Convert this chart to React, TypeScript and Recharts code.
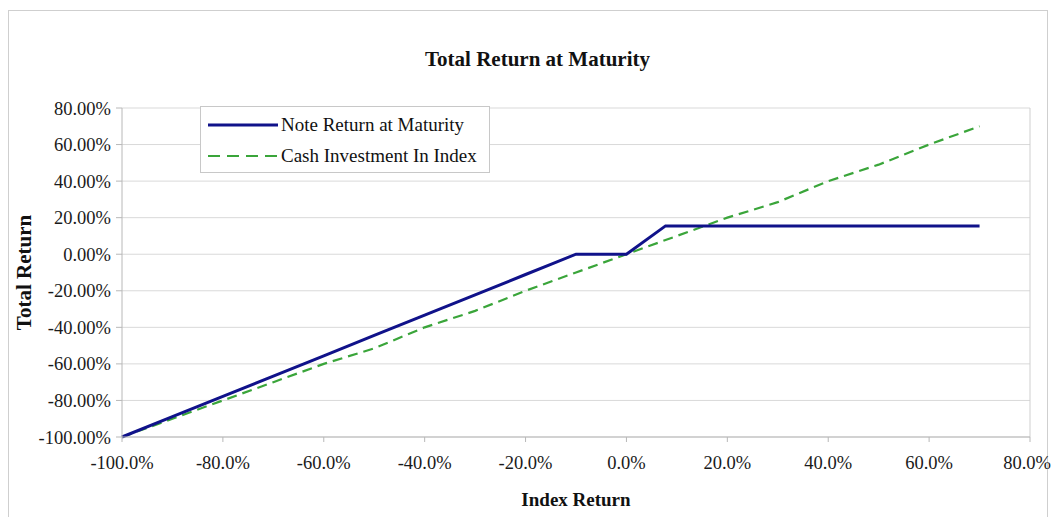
import { LineChart, Line, XAxis, YAxis, CartesianGrid, ReferenceLine } from 'recharts'

const NOTE_X = [-100, -90, -80, -70, -60, -50, -40, -30, -20, -15, -10, 0, 7.75, 10, 20, 30, 40, 50, 60, 70]
const NOTE_Y = [-100, -88.9, -77.8, -66.7, -55.6, -44.4, -33.3, -22.2, -11.1, -5.6, 0, 0, 15.5, 15.5, 15.5, 15.5, 15.5, 15.5, 15.5, 15.5]
const CASH_X = [-100, -90, -80, -70, -60, -50, -40, -30, -20, -10, 0, 10, 20, 30, 40, 50, 60, 70]
const CASH_Y = [-100, -90, -80, -70, -60, -51.5, -40, -31, -20, -10, 0, 10, 20, 28.5, 40, 49, 60, 70]
const X_TICKS = [-100, -80, -60, -40, -20, 0, 20, 40, 60, 80]
const Y_TICKS = [-100, -80, -60, -40, -20, 0, 20, 40, 60, 80]

const NOTE_NAME = 'Note Return at Maturity'
const CASH_NAME = 'Cash Investment In Index'

const FONT = '"Liberation Serif", "Times New Roman", serif'
const NAVY = '#10128a'
const GREEN = '#3aa53a'

const noteData = NOTE_X.map((x, i) => ({ x, y: NOTE_Y[i] }))
const cashData = CASH_X.map((x, i) => ({ x, y: CASH_Y[i] }))

function LegendBox() {
  const items = [
    { name: NOTE_NAME, color: NAVY, dash: undefined, w: 3 },
    { name: CASH_NAME, color: GREEN, dash: '12 7', w: 2.2 },
  ]
  return (
    <div style={{
      position: 'absolute', left: 200, top: 106, width: 290, height: 67, boxSizing: 'border-box',
      border: '1px solid #c8c8c8', background: '#fff', padding: '2px 0 0 6px', fontFamily: FONT,
    }}>
      {items.map((it) => (
        <div key={it.name} style={{ display: 'flex', alignItems: 'center', height: 31 }}>
          <svg width={72} height={10}>
            <line x1={1} y1={5} x2={71} y2={5} stroke={it.color} strokeWidth={it.w} strokeDasharray={it.dash} />
          </svg>
          <span style={{ fontSize: 19, color: '#111', marginLeft: 2, whiteSpace: 'nowrap' }}>{it.name}</span>
        </div>
      ))}
    </div>
  )
}

export default function App() {
  const tick = { fontSize: 18.5, fill: '#1a1a1a', fontFamily: FONT }
  return (
    <div style={{ position: 'absolute', left: 0, top: 0, width: 1051, height: 517, background: '#fff', fontFamily: FONT, overflow: 'hidden' }}>
      <div style={{ position: 'absolute', left: 8, top: 10, width: 1040, height: 520, border: '1px solid #cfcfcf', boxSizing: 'border-box' }} />
      <div style={{ position: 'absolute', left: 0, width: 1075, top: 47, textAlign: 'center', fontWeight: 'bold', fontSize: 21, color: '#111' }}>
        Total Return at Maturity
      </div>
      <div style={{ position: 'absolute', left: 0, top: 0 }}>
        <LineChart width={1051} height={517} margin={{ top: 108, right: 21, bottom: 22, left: 0 }}>
          <CartesianGrid vertical={false} stroke="#d9d9d9" />
          <XAxis
            type="number" dataKey="x" domain={[-100, 80]} ticks={X_TICKS}
            tickFormatter={(v) => `${v.toFixed(1)}%`}
            tick={tick} stroke="#b8b8b8" tickSize={5} tickMargin={14} height={58}
            label={{ value: 'Index Return', position: 'insideBottom', offset: -11, style: { fontSize: 19, fontWeight: 'bold', fill: '#111', fontFamily: FONT } }}
          />
          <YAxis
            type="number" dataKey="y" domain={[-100, 80]} ticks={Y_TICKS}
            tickFormatter={(v) => `${v.toFixed(2)}%`}
            tick={tick} stroke="#b8b8b8" tickSize={6} tickMargin={5} width={122}
            label={{ value: 'Total Return', angle: -90, position: 'insideLeft', offset: 24, style: { fontSize: 21, fontWeight: 'bold', fill: '#111', fontFamily: FONT, textAnchor: 'middle' } }}
          />
          <ReferenceLine x={80} stroke="#cfcfcf" />
          <Line data={cashData} dataKey="y" name={CASH_NAME} type="linear" stroke={GREEN} strokeWidth={2.2} strokeDasharray="10 6" dot={false} isAnimationActive={false} />
          <Line data={noteData} dataKey="y" name={NOTE_NAME} type="linear" stroke={NAVY} strokeWidth={3} dot={false} isAnimationActive={false} />
        </LineChart>
      </div>
      <LegendBox />
    </div>
  )
}
